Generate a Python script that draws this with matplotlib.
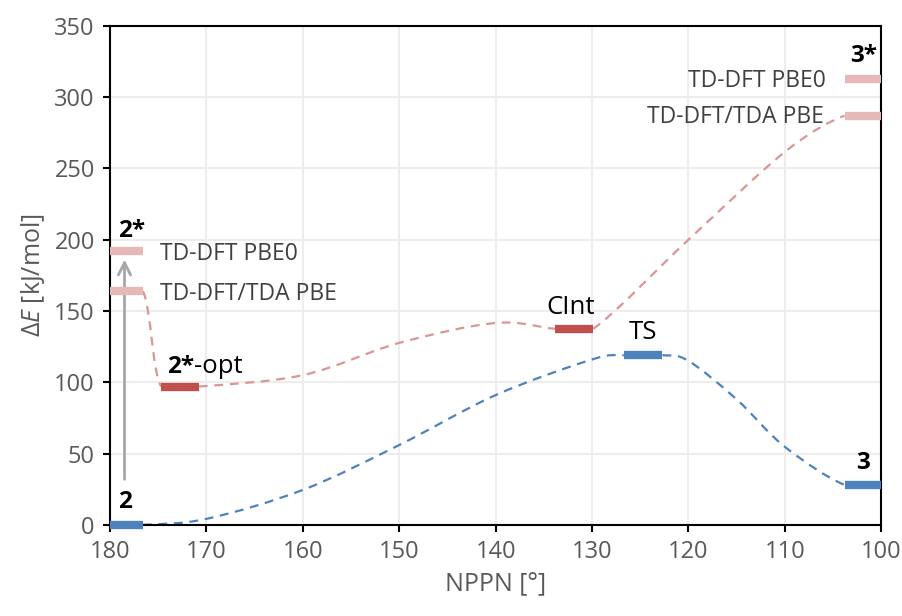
import numpy as np
import matplotlib
matplotlib.use("Agg")
import matplotlib.pyplot as plt
from matplotlib.path import Path
from matplotlib.patches import PathPatch

plt.rcParams['font.family'] = ['Open Sans', 'DejaVu Sans']
plt.rcParams['mathtext.fontset'] = 'custom'
plt.rcParams['mathtext.rm'] = 'Open Sans'
plt.rcParams['mathtext.it'] = 'Open Sans:italic'
plt.rcParams['mathtext.bf'] = 'Open Sans:bold'

# energy levels: angle range (start, end) and energy
level_x0 = [180.0, 180.0, 180.0, 174.7, 133.8, 126.7, 103.8, 103.8, 103.8]
level_x1 = [176.6, 176.6, 176.6, 170.8, 129.9, 122.7, 100.0, 100.0, 100.0]
level_e = [0.0, 192.0, 164.0, 97.0, 137.5, 119.0, 28.0, 312.5, 287.0]
level_col = ['#4F81BD', '#E6B9B8', '#E6B9B8', '#C0504D', '#C0504D',
             '#4F81BD', '#4F81BD', '#E6B9B8', '#E6B9B8']

# connectors between levels; first and last points are the far ends of the
# neighbouring levels and only steer the curve direction
gs_a_x = [180.0, 176.6, 170, 160, 150, 140, 130, 126.7, 122.7]
gs_a_e = [0.0, 0.0, 4.2, 24.5, 56, 91, 116, 119, 119]
gs_b_x = [126.7, 122.7, 120, 115, 110, 103.8, 100.0]
gs_b_e = [119, 119, 115, 88, 54.7, 28.0, 28.0]

es_a_x = [180.0, 176.6, 174.7, 170.8]
es_a_e = [164.0, 164.0, 97.0, 97.0]
es_b_x = [174.7, 170.8, 160, 150, 140, 133.8, 129.9]
es_b_e = [97.0, 97.0, 105, 127.6, 141.6, 137.5, 137.5]
es_c_x = [133.8, 129.9, 120, 110, 103.8, 100.0]
es_c_e = [137.5, 137.5, 200, 261.6, 287.0, 287.0]


def smooth_path(xs, ys):
    # Catmull-Rom cubic Bezier through the inner points (Excel-like smoothing)
    pts = np.column_stack([xs, ys]).astype(float)
    n = len(pts)
    verts = [pts[1]]
    codes = [Path.MOVETO]
    for i in range(1, n - 2):
        p0, p1, p2, p3 = pts[i - 1], pts[i], pts[i + 1], pts[i + 2]
        c1 = p1 + (p2 - p0) / 6.0
        c2 = p2 - (p3 - p1) / 6.0
        verts += [c1, c2, p2]
        codes += [Path.CURVE4] * 3
    return Path(verts, codes)


fig = plt.figure(figsize=(9.02, 6.16), dpi=100)
ax = fig.add_axes([0.122, 0.148, 0.855, 0.81])

ax.set_xlim(180, 100)
ax.set_ylim(0, 350)
ax.set_xticks(np.arange(180, 99, -10))
ax.set_yticks(np.arange(0, 351, 50))
ax.grid(True, color='#EDEDED', lw=1.5, zorder=0)
ax.set_axisbelow(True)
for s in ax.spines.values():
    s.set_color('black')
    s.set_linewidth(1.5)
ax.tick_params(direction='out', length=5, width=1.5, color='black',
               labelsize=17, labelcolor='#595959', pad=6)
ax.set_xlabel('NPPN [°]', fontsize=18, color='#595959', labelpad=5)
ax.set_ylabel(r'Δ$E$ [kJ/mol]', fontsize=18, color='#595959', labelpad=5)

for xs, es in [(gs_a_x, gs_a_e), (gs_b_x, gs_b_e)]:
    ax.add_patch(PathPatch(smooth_path(xs, es), fill=False, ec='#4F81BD',
                           lw=1.6, ls=(0, (4, 3)), zorder=2))
for xs, es in [(es_a_x, es_a_e), (es_b_x, es_b_e), (es_c_x, es_c_e)]:
    ax.add_patch(PathPatch(smooth_path(xs, es), fill=False, ec='#DA9694',
                           lw=1.6, ls=(0, (4, 3)), zorder=2))

for x0, x1, e, c in zip(level_x0, level_x1, level_e, level_col):
    ax.plot([x0, x1], [e, e], color=c, lw=6, solid_capstyle='butt',
            zorder=3, clip_on=False)

# vertical excitation arrow
ax.annotate('', xy=(178.5, 188), xytext=(178.5, 30),
            arrowprops=dict(arrowstyle='->', color='#A6A6A6', lw=2,
                            mutation_scale=22), zorder=2)

bold = dict(fontsize=17.5, fontweight='bold', color='black')
ax.text(178.4, 16, '2', ha='center', va='center', **bold)
ax.text(179.2, 206, '2*', ha='left', va='center', **bold)
ax.text(101.9, 43.5, '3', ha='center', va='center', **bold)
ax.text(100.4, 329, '3*', ha='right', va='center', **bold)

grey = dict(fontsize=16.5, color='#404040')
ax.text(174.8, 190, 'TD-DFT PBE0', ha='left', va='center', **grey)
ax.text(174.8, 162, 'TD-DFT/TDA PBE', ha='left', va='center', **grey)
ax.text(105.7, 311, 'TD-DFT PBE0', ha='right', va='center', **grey)
ax.text(106.0, 286, 'TD-DFT/TDA PBE', ha='right', va='center', **grey)

t = ax.text(174.1, 102, '2*', ha='left', va='bottom', **bold)
ax.annotate('-opt', xy=(1, 0), xycoords=t, ha='left', va='bottom',
            fontsize=18.5, color='black')
ax.text(132.2, 152.5, 'CInt', ha='center', va='center', fontsize=18.5, color='black')
ax.text(124.7, 135, 'TS', ha='center', va='center', fontsize=18.5, color='black')

fig.savefig('out.png', dpi=100)
